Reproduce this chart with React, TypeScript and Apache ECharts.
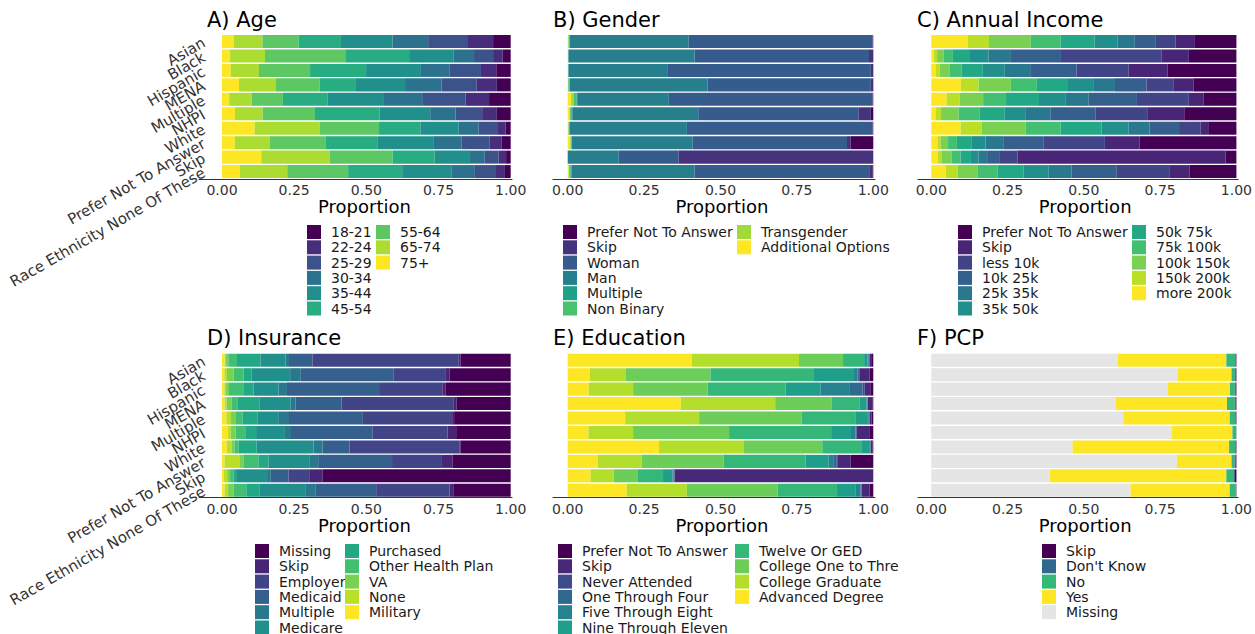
import React, { useEffect, useRef } from "react";
import * as echarts from "echarts";

const FONT = "DejaVu Sans";

const races = [
  "Asian", "Black", "Hispanic", "MENA", "Multiple", "NHPI", "White",
  "Prefer Not To Answer", "Skip", "Race Ethnicity None Of These",
];
const tickValues = [0, 0.25, 0.5, 0.75, 1];

// ---- A) Age (stack order left -> right)
const ageLevels = ["75+", "65-74", "55-64", "45-54", "35-44", "30-34", "25-29", "22-24", "18-21"];
const ageColors = ["#FDE725", "#AADC32", "#5DC863", "#27AD81", "#21908C", "#2C728E", "#3B528B", "#472D7B", "#440154"];
const ageRows = [
  [0.040, 0.100, 0.126, 0.146, 0.179, 0.123, 0.135, 0.090, 0.061],
  [0.028, 0.121, 0.278, 0.221, 0.155, 0.070, 0.066, 0.033, 0.028],
  [0.030, 0.098, 0.177, 0.194, 0.190, 0.100, 0.108, 0.053, 0.050],
  [0.059, 0.128, 0.151, 0.126, 0.170, 0.127, 0.120, 0.071, 0.048],
  [0.025, 0.078, 0.108, 0.154, 0.196, 0.135, 0.148, 0.081, 0.075],
  [0.045, 0.096, 0.181, 0.224, 0.175, 0.088, 0.092, 0.051, 0.048],
  [0.113, 0.226, 0.205, 0.143, 0.133, 0.069, 0.064, 0.029, 0.018],
  [0.044, 0.122, 0.194, 0.180, 0.194, 0.095, 0.097, 0.043, 0.031],
  [0.136, 0.237, 0.218, 0.145, 0.120, 0.054, 0.048, 0.026, 0.016],
  [0.062, 0.164, 0.211, 0.187, 0.172, 0.080, 0.073, 0.031, 0.020],
];

// ---- B) Gender
const genderLevels = ["Additional Options", "Transgender", "Non Binary", "Multiple", "Man", "Woman", "Skip", "Prefer Not To Answer"];
const genderColors = ["#FDE725", "#9FDA3A", "#4AC16D", "#1FA187", "#277F8E", "#365C8D", "#46337E", "#440154"];
const genderRows = [
  [0.002, 0.001, 0.003, 0.001, 0.389, 0.601, 0.003, 0.000],
  [0.001, 0.000, 0.001, 0.001, 0.412, 0.571, 0.013, 0.001],
  [0.001, 0.000, 0.001, 0.001, 0.325, 0.664, 0.007, 0.001],
  [0.001, 0.001, 0.004, 0.001, 0.451, 0.534, 0.007, 0.001],
  [0.011, 0.008, 0.010, 0.002, 0.300, 0.666, 0.002, 0.001],
  [0.006, 0.002, 0.006, 0.001, 0.412, 0.524, 0.041, 0.008],
  [0.002, 0.001, 0.002, 0.001, 0.384, 0.607, 0.002, 0.001],
  [0.008, 0.002, 0.003, 0.001, 0.395, 0.505, 0.012, 0.074],
  [0.000, 0.000, 0.000, 0.000, 0.167, 0.196, 0.637, 0.000],
  [0.003, 0.002, 0.004, 0.003, 0.403, 0.574, 0.008, 0.003],
];

// ---- C) Annual Income
const incomeLevels = ["more 200k", "150k 200k", "100k 150k", "75k 100k", "50k 75k", "35k 50k", "25k 35k", "10k 25k", "less 10k", "Skip", "Prefer Not To Answer"];
const incomeColors = ["#FDE725", "#BBDF27", "#7AD151", "#43BF71", "#22A884", "#21908C", "#2A788E", "#35608D", "#414487", "#482576", "#440154"];
const incomeRows = [
  [0.120, 0.069, 0.137, 0.098, 0.111, 0.076, 0.056, 0.069, 0.065, 0.063, 0.136],
  [0.009, 0.010, 0.022, 0.030, 0.056, 0.061, 0.073, 0.164, 0.329, 0.090, 0.156],
  [0.014, 0.013, 0.034, 0.039, 0.069, 0.072, 0.083, 0.152, 0.171, 0.127, 0.226],
  [0.097, 0.058, 0.106, 0.085, 0.102, 0.085, 0.069, 0.103, 0.088, 0.066, 0.141],
  [0.050, 0.043, 0.077, 0.075, 0.108, 0.088, 0.075, 0.158, 0.170, 0.049, 0.107],
  [0.014, 0.018, 0.058, 0.069, 0.082, 0.069, 0.080, 0.149, 0.171, 0.119, 0.171],
  [0.096, 0.069, 0.145, 0.114, 0.134, 0.089, 0.068, 0.097, 0.071, 0.027, 0.090],
  [0.020, 0.011, 0.024, 0.029, 0.049, 0.045, 0.060, 0.129, 0.202, 0.114, 0.317],
  [0.021, 0.014, 0.031, 0.030, 0.034, 0.025, 0.028, 0.042, 0.058, 0.681, 0.036],
  [0.048, 0.039, 0.066, 0.065, 0.085, 0.082, 0.075, 0.148, 0.174, 0.065, 0.153],
];

// ---- D) Insurance
const insuranceLevels = ["Military", "None", "VA", "Other Health Plan", "Purchased", "Medicare", "Multiple", "Medicaid", "Employer", "Skip", "Missing"];
const insuranceColors = ["#FDE725", "#BBDF27", "#7AD151", "#43BF71", "#22A884", "#21908C", "#2A788E", "#35608D", "#414487", "#482576", "#440154"];
const insuranceRows = [
  [0.009, 0.005, 0.008, 0.030, 0.081, 0.087, 0.012, 0.081, 0.507, 0.006, 0.174],
  [0.008, 0.009, 0.023, 0.035, 0.028, 0.133, 0.037, 0.322, 0.178, 0.016, 0.211],
  [0.008, 0.006, 0.010, 0.052, 0.033, 0.087, 0.029, 0.319, 0.219, 0.012, 0.225],
  [0.009, 0.007, 0.018, 0.021, 0.076, 0.107, 0.017, 0.159, 0.389, 0.009, 0.188],
  [0.015, 0.016, 0.015, 0.025, 0.053, 0.073, 0.035, 0.256, 0.309, 0.007, 0.196],
  [0.020, 0.010, 0.017, 0.036, 0.035, 0.100, 0.021, 0.283, 0.259, 0.030, 0.189],
  [0.016, 0.018, 0.009, 0.015, 0.062, 0.197, 0.031, 0.094, 0.380, 0.005, 0.173],
  [0.009, 0.051, 0.014, 0.052, 0.035, 0.141, 0.031, 0.256, 0.170, 0.039, 0.202],
  [0.006, 0.012, 0.010, 0.012, 0.012, 0.104, 0.013, 0.061, 0.072, 0.047, 0.651],
  [0.009, 0.012, 0.020, 0.043, 0.045, 0.159, 0.035, 0.211, 0.254, 0.013, 0.199],
];

// ---- E) Education
const educationLevels = ["Advanced Degree", "College Graduate", "College One to Thre", "Twelve Or GED", "Nine Through Eleven", "Five Through Eight", "One Through Four", "Never Attended", "Skip", "Prefer Not To Answer"];
const educationColors = ["#FDE725", "#B4DE2C", "#6DCD59", "#35B779", "#1F9E89", "#26828E", "#31688E", "#3E4A89", "#482878", "#440154"];
const educationRows = [
  [0.406, 0.351, 0.144, 0.069, 0.011, 0.003, 0.002, 0.002, 0.005, 0.007],
  [0.072, 0.117, 0.278, 0.339, 0.131, 0.012, 0.004, 0.003, 0.032, 0.012],
  [0.069, 0.145, 0.244, 0.255, 0.115, 0.093, 0.044, 0.007, 0.018, 0.010],
  [0.370, 0.309, 0.184, 0.093, 0.022, 0.002, 0.001, 0.001, 0.015, 0.003],
  [0.188, 0.242, 0.335, 0.176, 0.039, 0.005, 0.003, 0.001, 0.006, 0.005],
  [0.068, 0.146, 0.314, 0.334, 0.065, 0.015, 0.003, 0.000, 0.044, 0.011],
  [0.299, 0.278, 0.256, 0.130, 0.026, 0.002, 0.001, 0.000, 0.006, 0.002],
  [0.098, 0.144, 0.268, 0.268, 0.076, 0.017, 0.008, 0.003, 0.044, 0.074],
  [0.075, 0.075, 0.080, 0.082, 0.031, 0.004, 0.002, 0.001, 0.650, 0.000],
  [0.193, 0.197, 0.297, 0.194, 0.060, 0.017, 0.003, 0.001, 0.026, 0.012],
];

// ---- F) PCP
const pcpLevels = ["Missing", "Yes", "No", "Don't Know", "Skip"];
const pcpColors = ["#E5E5E5", "#FDE725", "#35B779", "#31688E", "#440154"];
const pcpRows = [
  [0.612, 0.355, 0.029, 0.002, 0.002],
  [0.807, 0.177, 0.011, 0.003, 0.002],
  [0.774, 0.205, 0.016, 0.003, 0.002],
  [0.604, 0.365, 0.026, 0.003, 0.002],
  [0.629, 0.349, 0.018, 0.002, 0.002],
  [0.788, 0.199, 0.012, 0.001, 0.000],
  [0.463, 0.513, 0.020, 0.002, 0.002],
  [0.805, 0.179, 0.010, 0.003, 0.003],
  [0.388, 0.579, 0.025, 0.003, 0.005],
  [0.653, 0.325, 0.019, 0.002, 0.001],
];

// legend columns (legend order)
const ageLegendCols = [["18-21", "22-24", "25-29", "30-34", "35-44", "45-54"], ["55-64", "65-74", "75+"]];
const genderLegendCols = [["Prefer Not To Answer", "Skip", "Woman", "Man", "Multiple", "Non Binary"], ["Transgender", "Additional Options"]];
const incomeLegendCols = [["Prefer Not To Answer", "Skip", "less 10k", "10k 25k", "25k 35k", "35k 50k"], ["50k 75k", "75k 100k", "100k 150k", "150k 200k", "more 200k"]];
const insuranceLegendCols = [["Missing", "Skip", "Employer", "Medicaid", "Multiple", "Medicare"], ["Purchased", "Other Health Plan", "VA", "None", "Military"]];
const educationLegendCols = [["Prefer Not To Answer", "Skip", "Never Attended", "One Through Four", "Five Through Eight", "Nine Through Eleven"], ["Twelve Or GED", "College One to Thre", "College Graduate", "Advanced Degree"]];
const pcpLegendCols = [["Skip", "Don't Know", "No", "Yes", "Missing"]];

// layout (pixel positions)
const panels = [
  { title: "A) Age", levels: ageLevels, colors: ageColors, rows: ageRows, legend: ageLegendCols,
    titleX: 207, titleY: 9, left: 199, width: 313, top: 34.3, min: -0.0797, max: 1.0045, showY: true, nameShift: 18, legendX: [307, 376], legendY: 225 },
  { title: "B) Gender", levels: genderLevels, colors: genderColors, rows: genderRows, legend: genderLegendCols,
    titleX: 553, titleY: 9, left: 553, width: 322, top: 34.3, min: -0.0481, max: 1.0056, showY: false, nameShift: 16, legendX: [563, 737], legendY: 225 },
  { title: "C) Annual Income", levels: incomeLevels, colors: incomeColors, rows: incomeRows, legend: incomeLegendCols,
    titleX: 917, titleY: 9, left: 918, width: 320.5, top: 34.3, min: -0.0435, max: 1.0059, showY: false, nameShift: 14, legendX: [958, 1132], legendY: 225 },
  { title: "D) Insurance", levels: insuranceLevels, colors: insuranceColors, rows: insuranceRows, legend: insuranceLegendCols,
    titleX: 207, titleY: 327, left: 199, width: 313, top: 353, min: -0.0797, max: 1.0045, showY: true, nameShift: 18, legendX: [255, 345], legendY: 544 },
  { title: "E) Education", levels: educationLevels, colors: educationColors, rows: educationRows, legend: educationLegendCols,
    titleX: 553, titleY: 327, left: 553, width: 322, top: 353, min: -0.0481, max: 1.0056, showY: false, nameShift: 16, legendX: [558, 735], legendY: 544 },
  { title: "F) PCP", levels: pcpLevels, colors: pcpColors, rows: pcpRows, legend: pcpLegendCols,
    titleX: 917, titleY: 327, left: 918, width: 320.5, top: 353, min: -0.0435, max: 1.0059, showY: false, nameShift: 14, legendX: [1042], legendY: 544 },
];

function buildOption() {
  const grid: any[] = [];
  const xAxis: any[] = [];
  const yAxis: any[] = [];
  const series: any[] = [];
  const legend: any[] = [];
  const title: any[] = [];

  panels.forEach((p, pi) => {
    grid.push({ left: p.left, top: p.top, width: p.width, height: 144.5, containLabel: false });
    xAxis.push({
      type: "value", gridIndex: pi, min: p.min, max: p.max,
      name: "Proportion", nameLocation: "middle", nameGap: 18.5, nameMoveOverlap: false,
      nameTextStyle: { fontSize: 18, lineHeight: 18, fontFamily: FONT, color: "#000", padding: [0, 0, 0, p.nameShift] },
      axisLine: { show: true, lineStyle: { color: "#333", width: 1 } },
      axisTick: { show: false, customValues: tickValues },
      splitLine: { show: false },
      axisLabel: {
        customValues: tickValues, margin: 4, fontSize: 14, lineHeight: 14, fontFamily: FONT, color: "#333",
        formatter: (v: number) => v.toFixed(2),
      },
    });
    yAxis.push({
      type: "category", gridIndex: pi, data: races, inverse: true,
      axisLine: { show: false }, axisTick: { show: false }, splitLine: { show: false },
      axisLabel: {
        show: p.showY, interval: 0, rotate: 30, margin: -5,
        fontSize: 15, fontFamily: FONT, color: "#333",
      },
    });
    p.levels.forEach((lvl, li) => {
      series.push({
        type: "bar", name: lvl, xAxisIndex: pi, yAxisIndex: pi, stack: "s" + pi,
        barWidth: "90%", itemStyle: { color: p.colors[li] },
        emphasis: { disabled: true },
        data: p.rows.map((r) => r[li]),
      });
    });
    title.push({
      text: p.title, left: p.titleX, top: p.titleY, padding: 0,
      textStyle: { fontSize: 21, fontWeight: "normal", fontFamily: FONT, color: "#000" },
    });
    p.legend.forEach((col, ci) => {
      legend.push({
        orient: "vertical", left: p.legendX[ci], top: p.legendY, height: 120, padding: 0,
        itemGap: 1.3, itemWidth: 14, itemHeight: 14, icon: "rect", selectedMode: false,
        textStyle: { fontSize: 14, fontFamily: FONT, color: "#1a1a1a", padding: [0, 0, 0, 5], lineHeight: 14 },
        data: col.map((n) => ({ name: n, itemStyle: { color: p.colors[p.levels.indexOf(n)] } })),
      });
    });
  });

  return { animation: false, backgroundColor: "#fff", title, grid, xAxis, yAxis, series, legend };
}

export default function App() {
  const ref = useRef<HTMLDivElement>(null);
  useEffect(() => {
    if (!ref.current) return;
    const chart = echarts.init(ref.current, undefined, { renderer: "svg" });
    chart.setOption(buildOption() as any);
    return () => chart.dispose();
  }, []);
  return <div ref={ref} style={{ position: "fixed", left: 0, top: 0, width: 1255, height: 634 }} />;
}
